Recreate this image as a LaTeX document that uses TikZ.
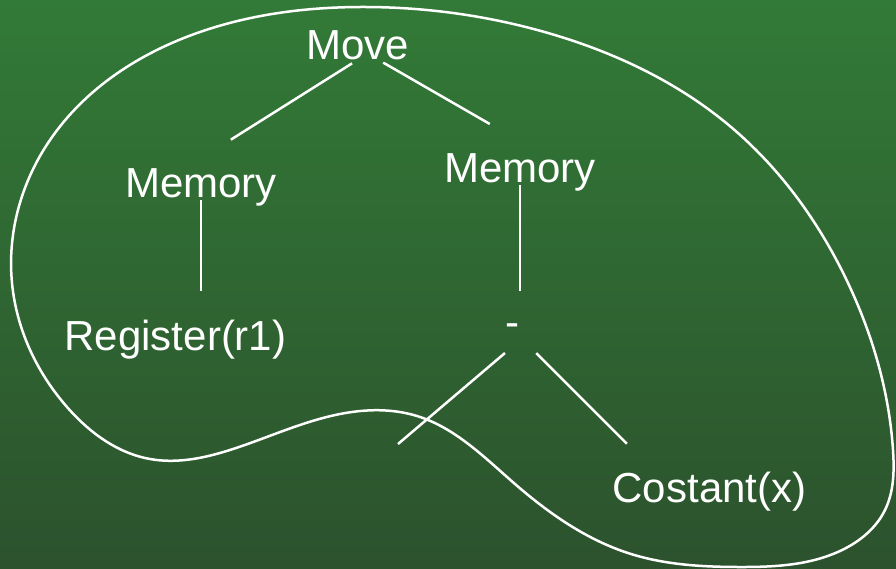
\documentclass[tikz,border=0pt]{standalone}
\usepackage{fontspec}
\setmainfont{Liberation Sans}
\usetikzlibrary{calc,hobby}
\definecolor{hatterfent}{RGB}{50,122,55}
\definecolor{hatterlent}{RGB}{44,82,45}
\tikzset{
  csucs/.style={inner sep=0pt,anchor=base,text=white,font=\fontsize{42}{48}\selectfont},
  ag/.style={draw=white,line width=2.5pt},
  folt/.style={draw=white,line width=2.5pt,use Hobby shortcut,closed=true},
}
\begin{document}
\begin{tikzpicture}[x=1pt,y=-1pt]
  \fill[top color=hatterfent,bottom color=hatterlent] (0,0) rectangle (896,568);
  \useasboundingbox (0,0) rectangle (896,568);
  \draw[folt] (367,7) .. (548,33) .. (731,127) .. (848,283) .. (893,450) .. (885,510) .. (840,551)
    .. (740,567) .. (631,554) .. (515,484) .. (417,416) .. (340,414) .. (233,449) .. (150,459)
    .. (67,407) .. (12,283) .. (50,140) .. (200,32);
  \node[csucs] (mv) at (358,59) {Move};
  \node[csucs] (m1) at (201,197) {Memory};
  \node[csucs] (m2) at (520,182) {Memory};
  \node[csucs] (r1) at (175.5,350) {Register(r1)};
  \node[csucs] (mi) at (512,336.6) {-};
  \node[csucs] (cx) at (709.5,502) {Costant(x)};
  \coordinate (lv) at (398,444);
  \draw[ag,shorten <=7pt,shorten >=53pt] (mv.south) -- ([xshift=-15pt]m1.north);
  \draw[ag,shorten <=6pt,shorten >=58pt] ([xshift=20pt]mv.south) -- ([xshift=20pt]m2.north);
  \draw[ag,shorten <=3pt,shorten >=28pt] (m1.base) -- (m1.base |- r1.north);
  \draw[ag,shorten <=3pt,shorten >=33pt] (m2.base) -- (m2.base |- mi.north);
  \draw[ag,shorten <=25pt] ([xshift=12pt]mi.south) -- (lv);
  \draw[ag,shorten <=23pt,shorten >=39pt] ([xshift=8pt]mi.south) -- ([xshift=-55pt]cx.north);
\end{tikzpicture}
\end{document}
